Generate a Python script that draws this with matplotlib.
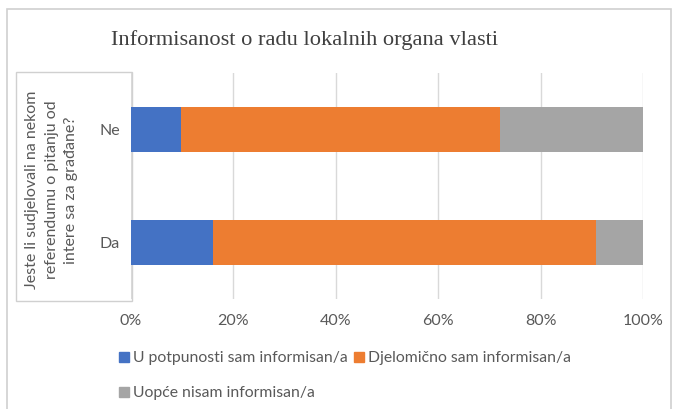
import matplotlib.pyplot as plt
from matplotlib.patches import Rectangle, Patch

categories = ["Da", "Ne"]
series_names = [
    "U potpunosti sam informisan/a",
    "Djelomično sam informisan/a",
    "Uopće nisam informisan/a",
]
# percent shares, order matches categories
potpuno = [16.1, 9.8]
djelomicno = [74.7, 62.2]
uopce = [9.2, 28.0]
colors = ["#4472C4", "#ED7D31", "#A5A5A5"]

title = "Informisanost o radu lokalnih organa vlasti"
ylabel = "Jeste li sudjelovali na nekom\nreferendumu o pitanju od\nintere sa za građane?"
xticks = [0, 20, 40, 60, 80, 100]
FONT = "Lato"

W, H = 674, 409
fig = plt.figure(figsize=(W / 100, H / 100), dpi=100)
fig.patch.set_facecolor("white")

# outer chart frame
fig.patches.append(Rectangle((7 / W, -0.05), (671 - 7) / W, 1.05 - 9 / H,
                             transform=fig.transFigure, fill=False,
                             edgecolor="#D0D0D0", linewidth=1.2, zorder=-2))
# y-axis title box
fig.patches.append(Rectangle((16 / W, 1 - 301 / H), (132 - 16) / W, (301 - 72) / H,
                             transform=fig.transFigure, fill=False,
                             edgecolor="#D0D0D0", linewidth=1, zorder=-1))

ax = fig.add_axes([131 / W, 1 - 299 / H, (643 - 131) / W, (299 - 73) / H])
ax.patch.set_alpha(0)

left = [0, 0]
for vals, name, col in zip([potpuno, djelomicno, uopce], series_names, colors):
    ax.barh(categories, vals, left=left, height=0.4, color=col, label=name, zorder=3)
    left = [a + b for a, b in zip(left, vals)]

ax.set_xlim(0, 100)
ax.set_ylim(-0.5, 1.5)
ax.set_xticks(xticks)
ax.set_xticklabels([f"{t}%" for t in xticks])
ax.xaxis.grid(True, color="#D9D9D9", linewidth=1, zorder=0)
for s in ax.spines.values():
    s.set_visible(False)
ax.tick_params(length=0, labelsize=11.5, labelcolor="#595959")
ax.tick_params(axis="x", pad=11)
ax.tick_params(axis="y", pad=8)
for lab in ax.get_xticklabels() + ax.get_yticklabels():
    lab.set_family(FONT)

fig.text(52 / W, 1 - 190 / H, ylabel, rotation=90, ha="center", va="center",
         multialignment="center", fontsize=11.5, color="#595959",
         family=FONT, linespacing=1.5)

fig.text(305 / W, 1 - 40 / H, title, ha="center", va="center",
         fontsize=16.1, color="#404040", family="Liberation Serif")

handles = [Patch(color=c) for c in colors]
order = [0, 2, 1]
leg = fig.legend([handles[i] for i in order], [series_names[i] for i in order],
                 ncol=2, loc="upper left", bbox_to_anchor=(105 / W, 1 - 337 / H),
                 frameon=False, handlelength=0.6, handleheight=0.6,
                 handletextpad=0.3, columnspacing=0.4, labelspacing=1.35,
                 prop={"family": FONT, "size": 11.3})
for t in leg.get_texts():
    t.set_color("#595959")

fig.savefig("out.png", dpi=100)
